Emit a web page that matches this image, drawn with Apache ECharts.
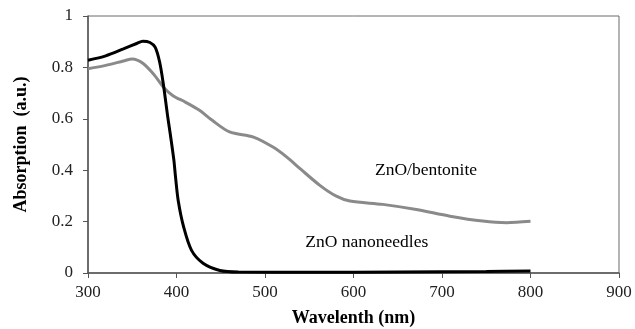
<!DOCTYPE html>
<html>
<head>
<meta charset="utf-8">
<script src="https://cdn.jsdelivr.net/npm/echarts@6/dist/echarts.min.js"></script>
<style>
  html, body { margin: 0; padding: 0; background: #fff; }
  #chart { width: 635px; height: 329px; }
</style>
</head>
<body>
<div id="chart"></div>
<script>
// ZnO nanoneedles (black)
const needleWl = [300, 320, 340, 355, 362, 370, 376, 381, 385, 390, 393, 397, 399, 402, 408, 417, 430, 449, 470, 550, 650, 750, 800];
const needleAbs = [0.828, 0.845, 0.872, 0.893, 0.902, 0.897, 0.878, 0.82, 0.738, 0.61, 0.54, 0.44, 0.37, 0.28, 0.18, 0.088, 0.038, 0.01, 0.004, 0.003, 0.004, 0.006, 0.008];
// ZnO/bentonite (gray)
const bentWl = [300, 320, 340, 350, 362, 375, 385, 396, 410, 426, 440, 460, 487, 509, 525, 540, 562, 580, 596, 633, 671, 709, 746, 773, 800];
const bentAbs = [0.795, 0.808, 0.825, 0.833, 0.816, 0.77, 0.724, 0.69, 0.665, 0.633, 0.595, 0.549, 0.529, 0.49, 0.45, 0.405, 0.341, 0.3, 0.28, 0.267, 0.247, 0.221, 0.202, 0.196, 0.201];

const xTicks = [300, 400, 500, 600, 700, 800, 900];
const yTicks = [0, 0.2, 0.4, 0.6, 0.8, 1];

const font = 'Liberation Serif';

let myChart = echarts.init(document.getElementById('chart'));

const zip = (xs, ys) => xs.map((x, i) => [x, ys[i]]);

let option = {
  animation: false,
  grid: {
    left: 88, right: 16, top: 16, bottom: 56, outerBoundsMode: 'none', containLabel: false,
    show: true, borderColor: '#6b6b6b', borderWidth: 1
  },
  xAxis: {
    type: 'value', min: xTicks[0], max: xTicks[xTicks.length - 1], interval: 100,
    name: 'Wavelenth (nm)', nameLocation: 'middle', nameGap: 36,
    nameTextStyle: { fontFamily: font, fontWeight: 'bold', fontSize: 18, color: '#000' },
    axisLine: { lineStyle: { color: '#555', width: 1.5 } },
    axisTick: { inside: false, length: 5, lineStyle: { color: '#555' } },
    axisLabel: { fontFamily: font, fontSize: 17, color: '#222', margin: 11 },
    splitLine: { show: false }
  },
  yAxis: {
    type: 'value', min: yTicks[0], max: yTicks[yTicks.length - 1], interval: 0.2,
    name: 'Absorption  (a.u.)', nameLocation: 'middle', nameGap: 58,
    nameTextStyle: { fontFamily: font, fontWeight: 'bold', fontSize: 18, color: '#000' },
    axisLine: { show: true, lineStyle: { color: '#555', width: 1.5 } },
    axisTick: { show: true, inside: false, length: 5, lineStyle: { color: '#555' } },
    axisLabel: { fontFamily: font, fontSize: 17, color: '#222', margin: 15 },
    splitLine: { show: false }
  },
  series: [
    {
      name: 'ZnO/bentonite', type: 'line', data: zip(bentWl, bentAbs), smooth: 0.3,
      showSymbol: false, lineStyle: { color: '#8a8a8a', width: 3 },
      markPoint: {
        symbolSize: 0, silent: true,
        label: { show: true, formatter: '{b}', fontFamily: font, fontSize: 17.5, color: '#000' },
        data: [{ name: 'ZnO/bentonite', coord: [682, 0.40] }]
      }
    },
    {
      name: 'ZnO nanoneedles', type: 'line', data: zip(needleWl, needleAbs), smooth: 0.3,
      showSymbol: false, lineStyle: { color: '#000', width: 3 },
      markPoint: {
        symbolSize: 0, silent: true,
        label: { show: true, formatter: '{b}', fontFamily: font, fontSize: 17.5, color: '#000' },
        data: [{ name: 'ZnO nanoneedles', coord: [615, 0.12] }]
      }
    }
  ]
};

option && myChart.setOption(option);
</script>
</body>
</html>
